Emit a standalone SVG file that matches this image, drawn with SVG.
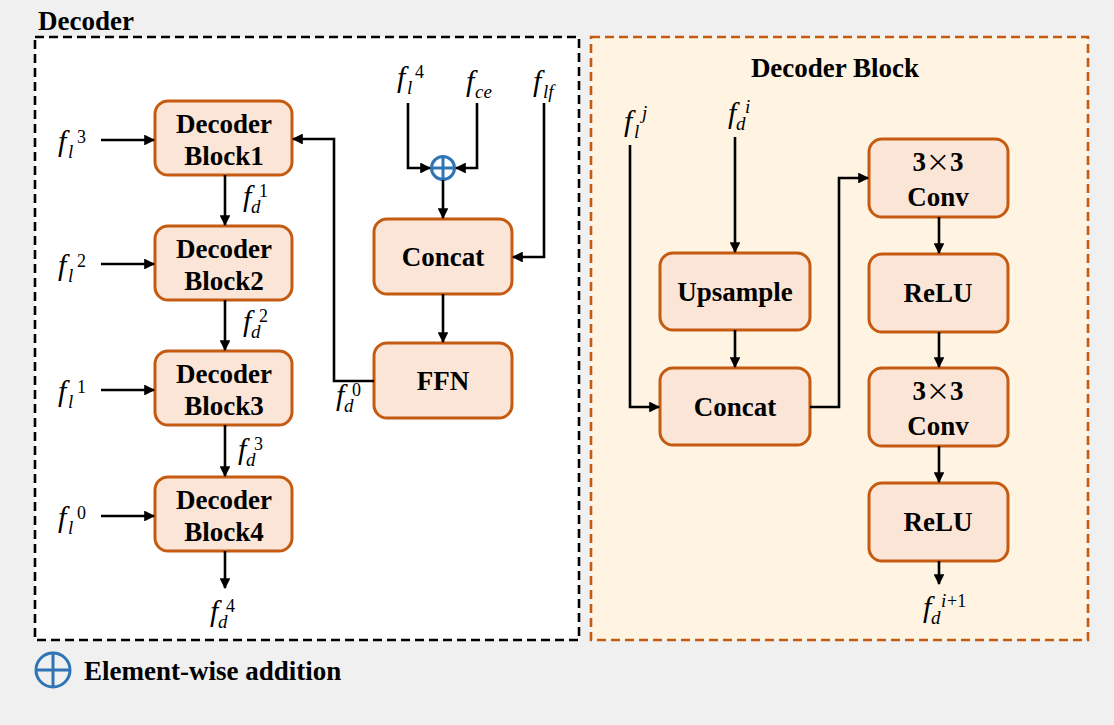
<svg xmlns="http://www.w3.org/2000/svg" width="1114" height="725" viewBox="0 0 1114 725">
<defs>
<marker id="ah" viewBox="0 0 10 10" refX="9" refY="5" markerWidth="4.2" markerHeight="4.2" orient="auto" markerUnits="strokeWidth">
<path d="M0,0 L10,5 L0,10 z" fill="#000"/>
</marker>
<style>
.node rect{fill:#fbe5d6;stroke:#c55a11;stroke-width:3}
.lbl{font-family:"Liberation Serif","Times New Roman",serif;font-weight:bold;font-size:27px;fill:#000;text-anchor:middle}
.title{font-family:"Liberation Serif","Times New Roman",serif;font-weight:bold;font-size:27px;fill:#000}
.x{font-family:"Noto Sans CJK SC","Noto Sans",sans-serif;font-weight:normal;font-size:24px}
.conn path{fill:none;stroke:#000;stroke-width:2.6}
.conn path.a{marker-end:url(#ah)}
.m{font-family:"Liberation Serif","Times New Roman",serif;font-style:italic;font-size:30px;fill:#000}
.s{font-family:"Liberation Serif","Times New Roman",serif;font-style:italic;font-size:19px;fill:#000}
.n{font-family:"Liberation Serif","Times New Roman",serif;font-size:18px;fill:#000}
</style>
</defs>
<rect x="0" y="0" width="1114" height="725" fill="#f0f0f0"/>

<!-- containers -->
<g id="decoder-panel">
<rect x="35" y="37" width="544" height="603" fill="#ffffff" stroke="#000" stroke-width="2.6" stroke-dasharray="9,5"/>
<text class="title" x="38" y="30">Decoder</text>
</g>
<g id="decoder-block-panel">
<rect x="591" y="37" width="497" height="603" fill="#fff3e2" stroke="#c55a11" stroke-width="2.6" stroke-dasharray="9,5"/>
<text class="title" x="835" y="77" text-anchor="middle">Decoder Block</text>
</g>

<!-- nodes -->
<g id="block1" class="node"><rect x="155" y="101" width="137" height="74" rx="13"/><text class="lbl" x="224" y="133">Decoder</text><text class="lbl" x="224" y="165">Block1</text></g>
<g id="block2" class="node"><rect x="155" y="226" width="137" height="74" rx="13"/><text class="lbl" x="224" y="258">Decoder</text><text class="lbl" x="224" y="290">Block2</text></g>
<g id="block3" class="node"><rect x="155" y="351" width="137" height="74" rx="13"/><text class="lbl" x="224" y="383">Decoder</text><text class="lbl" x="224" y="415">Block3</text></g>
<g id="block4" class="node"><rect x="155" y="477" width="137" height="74" rx="13"/><text class="lbl" x="224" y="509">Decoder</text><text class="lbl" x="224" y="541">Block4</text></g>
<g id="concat-left" class="node"><rect x="374" y="219" width="138" height="75" rx="13"/><text class="lbl" x="443" y="266">Concat</text></g>
<g id="ffn" class="node"><rect x="374" y="343" width="138" height="75" rx="13"/><text class="lbl" x="443" y="390">FFN</text></g>
<g id="add"><circle cx="443" cy="168" r="11.5" fill="none" stroke="#2e75b6" stroke-width="3"/><path d="M431.5,168 H454.5 M443,156.5 V179.5" stroke="#2e75b6" stroke-width="3"/></g>

<g id="upsample" class="node"><rect x="660" y="253" width="150" height="77" rx="13"/><text class="lbl" x="735" y="301">Upsample</text></g>
<g id="concat-right" class="node"><rect x="660" y="368" width="150" height="77" rx="13"/><text class="lbl" x="735" y="416">Concat</text></g>
<g id="conv1" class="node"><rect x="869" y="139" width="139" height="78" rx="13"/><text class="lbl" x="938" y="171">3<tspan class="x">×</tspan>3</text><text class="lbl" x="938" y="206">Conv</text></g>
<g id="relu1" class="node"><rect x="869" y="254" width="139" height="78" rx="13"/><text class="lbl" x="938" y="302">ReLU</text></g>
<g id="conv2" class="node"><rect x="869" y="368" width="139" height="78" rx="13"/><text class="lbl" x="938" y="400">3<tspan class="x">×</tspan>3</text><text class="lbl" x="938" y="435">Conv</text></g>
<g id="relu2" class="node"><rect x="869" y="483" width="139" height="78" rx="13"/><text class="lbl" x="938" y="531">ReLU</text></g>

<!-- connectors -->
<g id="connectors" class="conn">
<path class="a" d="M101,140 H154"/>
<path class="a" d="M101,264 H154"/>
<path class="a" d="M101,390 H154"/>
<path class="a" d="M101,516 H154"/>
<path class="a" d="M225,175 V225"/>
<path class="a" d="M225,300 V350"/>
<path class="a" d="M225,425 V476"/>
<path class="a" d="M225,551 V588"/>
<path class="a" d="M408,103 V168 H430"/>
<path class="a" d="M477,103 V168 H456"/>
<path class="a" d="M443,180 V218"/>
<path class="a" d="M544,103 V257 H513"/>
<path class="a" d="M443,294 V342"/>
<path class="a" d="M374,381 H334 V139 H293"/>
<path class="a" d="M630,145 V407 H659"/>
<path class="a" d="M735,137 V252"/>
<path class="a" d="M735,330 V367"/>
<path class="a" d="M810,407 H839 V178 H868"/>
<path class="a" d="M939,217 V253"/>
<path class="a" d="M939,332 V367"/>
<path class="a" d="M939,446 V482"/>
<path class="a" d="M939,561 V584"/>
</g>

<!-- math labels -->
<g id="lbl-fl3"><text class="m" x="58" y="151">f</text><text class="s" x="68" y="158">l</text><text class="n" x="77" y="143">3</text></g>
<g id="lbl-fl2"><text class="m" x="58" y="275">f</text><text class="s" x="68" y="282">l</text><text class="n" x="77" y="267">2</text></g>
<g id="lbl-fl1"><text class="m" x="58" y="401">f</text><text class="s" x="68" y="408">l</text><text class="n" x="77" y="393">1</text></g>
<g id="lbl-fl0"><text class="m" x="58" y="527">f</text><text class="s" x="68" y="534">l</text><text class="n" x="77" y="519">0</text></g>
<g id="lbl-fd1"><text class="m" x="243" y="206">f</text><text class="s" x="251" y="213">d</text><text class="n" x="259" y="197">1</text></g>
<g id="lbl-fd2"><text class="m" x="243" y="331">f</text><text class="s" x="251" y="338">d</text><text class="n" x="259" y="322">2</text></g>
<g id="lbl-fd3"><text class="m" x="238" y="459">f</text><text class="s" x="246" y="466">d</text><text class="n" x="254" y="450">3</text></g>
<g id="lbl-fd4"><text class="m" x="210" y="621">f</text><text class="s" x="218" y="628">d</text><text class="n" x="226" y="612">4</text></g>
<g id="lbl-fd0"><text class="m" x="336" y="405">f</text><text class="s" x="344" y="412">d</text><text class="n" x="352" y="396">0</text></g>
<g id="lbl-fl4"><text class="m" x="397" y="87">f</text><text class="s" x="407" y="94">l</text><text class="n" x="415" y="78">4</text></g>
<g id="lbl-fce"><text class="m" x="466" y="91">f</text><text class="s" x="475" y="98">ce</text></g>
<g id="lbl-flf"><text class="m" x="533" y="91">f</text><text class="s" x="543" y="98">lf</text></g>
<g id="lbl-flj"><text class="m" x="624" y="131">f</text><text class="s" x="634" y="138">l</text><text class="s" x="642" y="119">j</text></g>
<g id="lbl-fdi"><text class="m" x="728" y="123">f</text><text class="s" x="736" y="130">d</text><text class="s" x="745" y="113">i</text></g>
<g id="lbl-fdi1"><text class="m" x="923" y="617">f</text><text class="s" x="931" y="624">d</text><text class="s" x="941" y="607">i</text><text class="n" x="947" y="607">+1</text></g>

<!-- legend -->
<g id="legend">
<circle cx="53" cy="670" r="17" fill="none" stroke="#2e75b6" stroke-width="3"/>
<path d="M36,670 H70 M53,653 V687" stroke="#2e75b6" stroke-width="3"/>
<text class="title" x="84" y="680" font-size="25">Element-wise addition</text>
</g>
</svg>
